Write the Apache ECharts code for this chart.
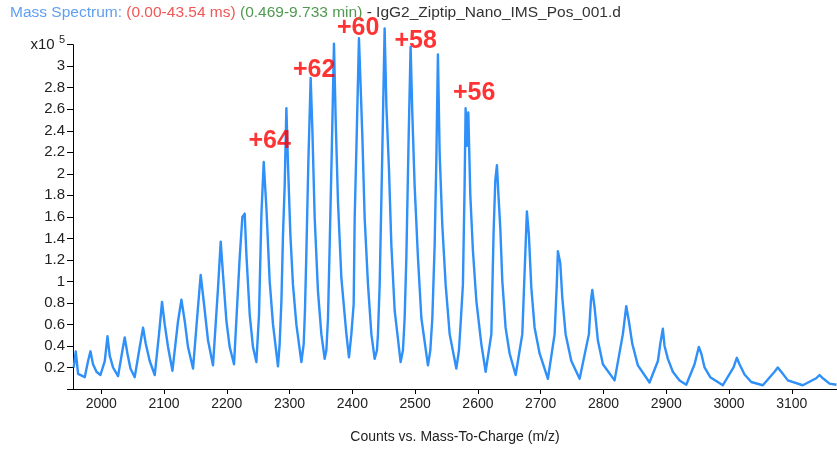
<!DOCTYPE html>
<html><head><meta charset="utf-8">
<script src="https://cdn.jsdelivr.net/npm/echarts@6/dist/echarts.min.js"></script>
<style>html,body{margin:0;padding:0;background:#fff}#c{width:837px;height:449px}</style>
</head><body><div id="c"></div>
<script>
// m/z values of the spectrum trace
const mz = [
1956.2,1959.4,1963.1,1973.7,1979.0,1982.8,1986.9,1992.4,1998.7,2005.6,2009.9,2013.5,2018.8,2026.8,
2033.8,2037.4,2041.7,2046.5,2053.3,2061.3,2066.6,2070.9,2077.2,2085.2,2092.0,2096.8,2101.1,2106.4,
2113.4,2122.3,2127.7,2133.0,2138.2,2146.2,2154.1,2158.4,2163.7,2170.1,2178.0,2186.0,2190.3,2194.0,
2199.4,2204.6,2211.5,2220.5,2224.8,2228.5,2231.2,2236.5,2241.7,2247.1,2251.3,2255.1,2258.8,2263.1,2268.3,
2273.6,2281.5,2284.2,2287.0,2289.5,2292.2,2294.9,2297.5,2301.3,2305.4,2310.8,
2318.8,2322.5,2324.5,2326.8,2329.9,2333.6,2336.3,2340.0,2345.2,2350.6,
2355.9,2358.6,2361.2,2363.9,2367.5,2370.7,2373.4,2377.1,2382.5,2390.5,
2394.6,2398.4,2402.1,2403.7,2407.3,2410.5,2413.2,2415.9,2419.6,2424.9,2430.3,
2435.5,2439.2,2440.8,2443.5,2447.2,2451.4,2454.2,2458.3,2462.1,2467.4,
2476.9,2480.6,2483.3,2486.0,2489.7,2492.8,2495.6,2499.2,2504.5,2509.9,
2520.4,2524.2,2527.4,2531.1,2533.8,2536.3,2539.0,2543.3,2548.6,2555.0,
2565.6,2569.8,2573.0,2576.1,2578.8,2580.4,2582.5,2584.7,2587.9,2592.1,2597.5,2605.4,
2612.3,2621.4,2625.0,2627.7,2630.3,2633.0,2635.7,2638.9,2644.1,2650.5,
2660.1,2670.7,2674.4,2678.0,2681.2,2685.1,2690.3,2698.3,
2711.5,2722.2,2725.8,2727.4,2731.2,2734.4,2739.7,2748.8,
2762.0,2776.8,2780.0,2782.2,2785.8,2791.1,2799.1,
2817.7,2830.9,2836.3,2840.5,2845.9,2854.8,
2873.4,2886.7,2890.5,2894.6,2897.3,2902.6,2910.5,2921.2,
2931.9,2945.1,2951.9,2955.8,2961.0,2970.1,
2990.2,3007.2,3012.4,3016.7,3024.7,3035.4,
3053.9,3072.5,3077.7,3083.2,3093.7,
3117.5,3138.9,3144.2,3150.5,3160.1,3171.2
];
// counts (x10^5)
const counts = [
0.20,0.35,0.14,0.11,0.26,0.35,0.23,0.16,0.13,0.26,0.49,0.31,0.20,0.12,
0.36,0.48,0.33,0.19,0.11,0.39,0.57,0.42,0.26,0.13,0.51,0.81,0.60,0.39,
0.17,0.63,0.83,0.63,0.39,0.19,0.76,1.06,0.79,0.45,0.22,0.94,1.37,1.06,
0.63,0.39,0.23,1.22,1.60,1.63,1.25,0.69,0.39,0.25,0.69,1.62,2.11,1.68,1.00,
0.60,0.21,0.42,0.82,1.43,1.89,2.61,2.08,1.43,0.97,0.60,
0.25,0.42,0.73,1.28,2.11,2.89,2.41,1.59,0.91,0.51,
0.28,0.36,0.66,1.34,2.29,3.21,2.51,1.74,1.03,0.51,
0.295,0.51,0.79,1.59,2.45,3.26,2.81,2.35,1.59,0.97,0.51,
0.28,0.36,0.51,0.97,2.05,3.35,2.63,2.05,1.34,0.73,
0.25,0.36,0.66,1.22,2.35,3.18,2.54,1.89,1.22,0.66,
0.22,0.36,0.66,1.34,2.14,3.11,2.20,1.52,0.97,0.51,
0.19,0.36,0.66,0.97,1.89,2.61,2.26,2.57,1.80,1.28,0.82,0.42,
0.16,0.51,1.46,1.94,2.08,1.77,1.49,1.00,0.57,0.33,
0.13,0.51,1.09,1.65,1.43,0.94,0.57,0.33,
0.095,0.51,1.00,1.28,1.17,0.85,0.51,0.26,
0.095,0.51,0.82,0.92,0.76,0.45,0.23,
0.08,0.51,0.77,0.63,0.42,0.22,
0.06,0.26,0.42,0.56,0.40,0.28,0.16,0.08,
0.04,0.23,0.39,0.33,0.20,0.11,
0.035,0.20,0.29,0.23,0.135,0.065,
0.035,0.16,0.20,0.16,0.08,
0.035,0.10,0.13,0.095,0.05,0.04
];
const xTicks = [2000,2100,2200,2300,2400,2500,2600,2700,2800,2900,3000,3100];
const chargeLabels = ['+64','+62','+60','+58','+56'];
const chargeMz = [2268.3,2339.2,2409.3,2500.8,2594.0];
const chargeY = [2.30,2.96,3.35,3.235,2.75];

const chart = echarts.init(document.getElementById('c'), null, {renderer:'canvas'});
const font = 'Liberation Sans, Arial, sans-serif';
chart.setOption({
  animation:false,
  backgroundColor:'#fff',
  title:{
    left:10, top:5, padding:0,
    text:'{a|Mass Spectrum:} {b|(0.00-43.54 ms)} {c|(0.469-9.733 min)} {d|- IgG2_Ziptip_Nano_IMS_Pos_001.d}',
    textStyle:{fontFamily:font, fontSize:15.5, fontWeight:'normal',
      rich:{
        a:{color:'#5e9ff2', fontSize:15.5, fontFamily:font},
        b:{color:'#f05757', fontSize:15.5, fontFamily:font},
        c:{color:'#4f9a4f', fontSize:15.5, fontFamily:font},
        d:{color:'#333333', fontSize:15.5, fontFamily:font}
      }}
  },
  grid:{left:73, right:0, top:44.7, bottom:57, containLabel:false},
  xAxis:{
    type:'value', min:1955, max:3172,
    name:'Counts vs. Mass-To-Charge (m/z)', nameLocation:'middle', nameGap:41,
    nameTextStyle:{fontFamily:font, fontSize:14, color:'#222'},
    axisLine:{lineStyle:{color:'#000', width:1}},
    axisTick:{show:true, length:5, customValues:xTicks, lineStyle:{color:'#000'}},
    axisLabel:{customValues:xTicks, margin:8, fontFamily:font, fontSize:14, color:'#222',
      formatter:function(v){ return String(Math.round(v)); }},
    splitLine:{show:false}
  },
  yAxis:{
    type:'value', min:0, max:3.2, interval:0.2,
    axisLine:{show:true, lineStyle:{color:'#000', width:1}},
    axisTick:{show:true, length:6, lineStyle:{color:'#000'}},
    axisLabel:{margin:8, fontFamily:font, fontSize:15, color:'#222',
      formatter:function(v){
        if (Math.abs(v-3.2)<1e-6) return '{x|x10 }{s|5}';
        if (v<1e-6) return '';
        return String(+v.toFixed(1));
      },
      rich:{x:{fontFamily:font, fontSize:15, color:'#222'}, s:{fontFamily:font, fontSize:11, color:'#222', padding:[0,0,9,0]}}
    },
    splitLine:{show:false}
  },
  series:[
    {type:'line', data:mz.map((m,i)=>[m,counts[i]]), showSymbol:false, clip:false,
     lineStyle:{color:'#2e90f8', width:2.4, join:'round'}, itemStyle:{color:'#2e90f8'}, z:2},
    {type:'scatter', clip:false, symbolSize:0, z:5,
     data:chargeMz.map((m,i)=>({value:[m,chargeY[i]], label:{formatter:chargeLabels[i]}})),
     label:{show:true, position:'inside', color:'#ff0000', fontFamily:font, fontWeight:'bold', fontSize:25}}
  ]
});
</script></body></html>
